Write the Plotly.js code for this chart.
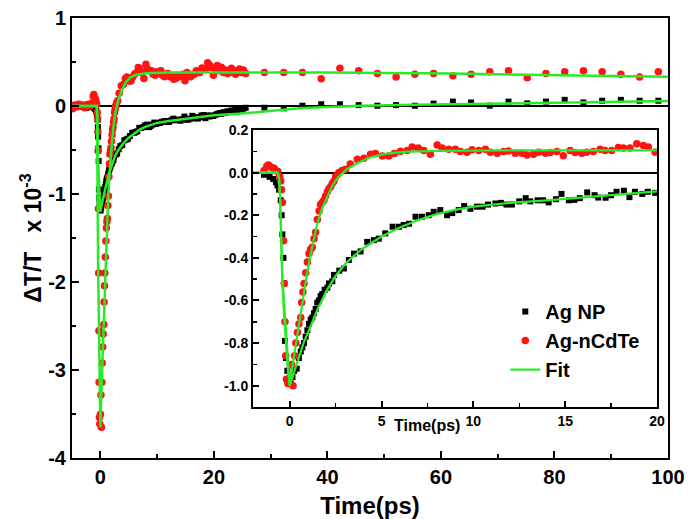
<!DOCTYPE html>
<html>
<head>
<meta charset="utf-8">
<script src="https://cdn.plot.ly/plotly-3.0.1.min.js"></script>
<style>html,body{margin:0;padding:0;background:#fff;}#chart{width:699px;height:519px;}</style>
</head>
<body>
<div id="chart"></div>
<script>
// ---- Data ----
// Peak magnitudes (main plot, units of 1e-3) used to convert normalized inset data
const redPeak = 3.65;
const blackPeak = 1.2;

// Tick labels (hyphen minus as in the original)
const mainYTicks = [-4,-3,-2,-1,0,1];
const mainYLabels = ['-4','-3','-2','-1','0','1'];
const insetYTicks = [-1.0,-0.8,-0.6,-0.4,-0.2,0.0,0.2];
const insetYLabels = ['-1.0','-0.8','-0.6','-0.4','-0.2','0.0','0.2'];

// Pre-zero points (main plot only, absolute units)
const tPre = [-4.9,-4.55,-4.2,-3.85,-3.5,-3.15,-2.8,-2.45,-2.1,-1.75];
const blackPre = [0.0,-0.01,0.01,0.0,-0.01,0.01,0.0,-0.02,0.0,-0.01];
const redPre = [-0.03,0.01,-0.01,0.02,0.0,0.01,-0.02,0.01,0.02,0.0];

// Normalized early-time data (inset, -2..20 ps)
const tRed = [-1.4,-1.25,-1.16,-1.0,-0.85,-0.75,-0.65,-0.55,-0.49,-0.45,-0.4,-0.34,-0.3,-0.26,-0.22,-0.18,-0.1,0.02,0.1,0.18,0.26,0.33,0.42,0.5,0.6,0.65,0.72,0.78,0.87,0.96,1.05,1.14,1.23,1.32,1.41,1.5,1.6,1.68,1.77,1.86,1.95,2.05,2.14,2.23,2.32,2.41,2.5,2.6,2.68,2.86,3.04,3.3,3.68,4.04,4.4,4.67,5.05,5.4,5.7,6.03,6.4,6.67,7.0,7.3,7.66,8.03,8.3,8.66,9.02,9.29,9.66,9.93,10.3,10.65,10.92,11.3,11.65,11.92,12.29,12.65,12.92,13.28,13.55,13.92,14.18,14.55,14.9,15.27,15.54,15.9,16.17,16.53,16.9,17.17,17.53,17.9,18.17,18.53,18.9,19.26,19.53,19.9];
const redNorm = [0.01,0.03,0.036,0.025,0.02,0.01,0.005,-0.02,-0.04,-0.08,-0.14,-0.32,-0.52,-0.70,-0.86,-0.97,-0.99,-0.96,-0.9,-1.0,-0.86,-0.80,-0.75,-0.71,-0.68,-0.61,-0.56,-0.52,-0.47,-0.42,-0.38,-0.36,-0.35,-0.31,-0.28,-0.22,-0.18,-0.15,-0.14,-0.13,-0.11,-0.09,-0.075,-0.066,-0.05,-0.04,-0.02,-0.01,0.0,0.01,0.016,0.04,0.063,0.067,0.086,0.09,0.078,0.078,0.09,0.1,0.104,0.12,0.115,0.104,0.086,0.13,0.115,0.11,0.11,0.099,0.096,0.107,0.104,0.11,0.096,0.091,0.099,0.101,0.091,0.091,0.083,0.086,0.096,0.091,0.094,0.099,0.079,0.104,0.094,0.091,0.096,0.099,0.11,0.104,0.104,0.118,0.115,0.115,0.135,0.127,0.12,0.096];

const tBlack = [-1.4,-1.1,-0.9,-0.75,-0.67,-0.58,-0.49,-0.44,-0.4,-0.34,-0.3,-0.26,-0.2,-0.13,-0.04,0.05,0.15,0.24,0.38,0.5,0.6,0.69,0.78,0.87,0.96,1.05,1.14,1.23,1.32,1.41,1.5,1.6,1.68,1.77,1.9,2.05,2.14,2.32,2.41,2.7,2.95,3.22,3.5,3.86,4.22,4.58,4.85,5.2,5.6,5.95,6.2,6.5,6.85,7.2,7.57,7.84,8.2,8.57,8.85,9.2,9.5,9.84,10.2,10.5,10.8,11.2,11.5,11.8,12.1,12.5,12.85,13.1,13.5,13.8,14.1,14.5,14.8,15.2,15.5,15.8,16.2,16.6,16.8,17.2,17.5,17.8,18.2,18.5,18.8,19.2,19.5,19.9];
const blackNorm = [-0.01,-0.02,-0.03,-0.045,-0.06,-0.08,-0.13,-0.2,-0.29,-0.4,-0.52,-0.79,-0.87,-0.93,-0.97,-0.99,-0.96,-0.93,-0.92,-0.87,-0.84,-0.82,-0.8,-0.77,-0.74,-0.71,-0.69,-0.68,-0.66,-0.64,-0.61,-0.6,-0.58,-0.57,-0.55,-0.54,-0.52,-0.51,-0.48,-0.46,-0.45,-0.41,-0.38,-0.37,-0.325,-0.317,-0.31,-0.285,-0.254,-0.254,-0.246,-0.24,-0.207,-0.207,-0.2,-0.184,-0.176,-0.2,-0.19,-0.176,-0.157,-0.17,-0.16,-0.16,-0.15,-0.145,-0.142,-0.15,-0.15,-0.135,-0.12,-0.135,-0.13,-0.13,-0.14,-0.125,-0.1,-0.13,-0.128,-0.12,-0.093,-0.106,-0.117,-0.118,-0.106,-0.09,-0.085,-0.115,-0.09,-0.1,-0.09,-0.095];

// Late-time points (main plot only, absolute units)
const tTail = [20.3,20.6,21.0,21.3,21.7,22.0,22.4,22.7,23.1,23.4,23.8,24.1,24.5,24.8,25.2,25.6,28.9,32.3,35.6,38.9,42.2,45.5,48.8,52.1,55.4,58.7,62.1,65.3,68.6,71.9,75.2,78.5,81.8,85.1,88.4,91.7,95.0,98.3];
const blackTail = [-0.1,-0.09,-0.08,-0.09,-0.07,-0.08,-0.06,-0.07,-0.05,-0.06,-0.04,-0.05,-0.03,-0.04,-0.03,-0.02,-0.02,-0.026,0.003,0.02,0.02,0.01,0.003,0.01,0.003,0.027,0.05,0.04,0.004,0.05,0.03,0.05,0.07,0.04,0.06,0.07,0.06,0.06];
const redTail = [0.42,0.46,0.40,0.44,0.38,0.41,0.37,0.40,0.43,0.38,0.36,0.40,0.42,0.38,0.41,0.37,0.38,0.38,0.38,0.31,0.43,0.40,0.37,0.33,0.36,0.37,0.345,0.36,0.39,0.40,0.32,0.37,0.39,0.40,0.39,0.36,0.33,0.39];

// Fit curves, normalized (-5..20 ps)
const tFitRed = [-5,-0.65,-0.58,-0.53,-0.49,-0.45,-0.4,-0.3,-0.2,-0.1,0.0,0.2,0.4,0.6,0.78,0.95,1.1,1.3,1.5,1.75,2.0,2.3,2.6,3.1,3.7,4.4,5.2,6.2,8,12,20];
const fitRedNorm = [0,0,-0.03,-0.1,-0.22,-0.37,-0.5,-0.62,-0.75,-0.87,-1.0,-0.88,-0.77,-0.65,-0.55,-0.47,-0.4,-0.32,-0.24,-0.17,-0.12,-0.065,-0.025,0.015,0.045,0.072,0.088,0.097,0.102,0.104,0.104];
const tFitBlack = [-5,-0.65,-0.58,-0.53,-0.49,-0.45,-0.4,-0.3,-0.2,-0.1,0.0,0.25,0.5,0.75,1.0,1.5,2.0,2.5,3.0,3.5,4.0,5.0,6.0,7.0,8.0,9,10,12,14,16,18,20];
const fitBlackNorm = [0,0,-0.03,-0.1,-0.22,-0.37,-0.52,-0.68,-0.82,-0.93,-1.0,-0.93,-0.86,-0.8,-0.75,-0.645,-0.555,-0.485,-0.43,-0.39,-0.355,-0.3,-0.258,-0.222,-0.195,-0.175,-0.16,-0.142,-0.13,-0.115,-0.1,-0.088];
// Fit tails (main plot only, absolute units)
const tFitRedTail = [25,30,40,50,62,75,90,100];
const fitRedTail = [0.385,0.385,0.38,0.375,0.37,0.355,0.34,0.333];
const tFitBlackTail = [25,30,35,40,46,55,62,70,80,90,100];
const fitBlackTail = [-0.085,-0.055,-0.026,-0.012,0.003,0.013,0.02,0.03,0.04,0.05,0.057];

// ---- Build main-plot series ----
const scale = (arr, k) => arr.map(v => v * k);
const mainBlackX = tPre.concat(tBlack, tTail);
const mainBlackY = blackPre.concat(scale(blackNorm, blackPeak), blackTail);
const mainRedX = tPre.concat(tRed, tTail);
const mainRedY = redPre.concat(scale(redNorm, redPeak), redTail);
const mainFitRedX = tFitRed.concat(tFitRedTail);
const mainFitRedY = scale(fitRedNorm, redPeak).concat(fitRedTail);
const mainFitBlackX = tFitBlack.concat(tFitBlackTail);
const mainFitBlackY = scale(fitBlackNorm, blackPeak).concat(fitBlackTail);

const FONT = 'Arial, "Liberation Sans", sans-serif';
const GREEN = 'rgb(40,235,40)';
const RED = 'rgb(255,20,20)';

const sq = {symbol:'square', size:6, color:'#000'};
const ci = {symbol:'circle', size:7.5, color:RED};

const traces = [
  {x:mainBlackX, y:mainBlackY, mode:'markers', marker:sq, xaxis:'x', yaxis:'y', showlegend:false},
  {x:mainRedX, y:mainRedY, mode:'markers', marker:ci, xaxis:'x', yaxis:'y', showlegend:false},
  {x:mainFitBlackX, y:mainFitBlackY, mode:'lines', line:{color:GREEN, width:2.5}, xaxis:'x', yaxis:'y', showlegend:false},
  {x:mainFitRedX, y:mainFitRedY, mode:'lines', line:{color:GREEN, width:2.5}, xaxis:'x', yaxis:'y', showlegend:false},
  {x:tBlack, y:blackNorm, name:'Ag NP', mode:'markers', marker:sq, xaxis:'x2', yaxis:'y2'},
  {x:tRed, y:redNorm, name:'Ag-nCdTe', mode:'markers', marker:ci, xaxis:'x2', yaxis:'y2'},
  {x:tFitRed, y:fitRedNorm, name:'Fit', mode:'lines', line:{color:GREEN, width:2.2}, xaxis:'x2', yaxis:'y2'},
  {x:tFitBlack, y:fitBlackNorm, mode:'lines', line:{color:GREEN, width:2.2}, xaxis:'x2', yaxis:'y2', showlegend:false}
];

const axBase = {
  showline:true, linecolor:'#000', linewidth:2, mirror:true,
  ticks:'inside', tickcolor:'#000', tickwidth:2, showgrid:false, zeroline:false
};

const layout = {
  width:699, height:519,
  margin:{l:72, r:31, t:18, b:61},
  paper_bgcolor:'#fff', plot_bgcolor:'#fff',
  font:{family:FONT, color:'#000'},
  xaxis:Object.assign({}, axBase, {
    domain:[0,1], anchor:'y', range:[-5,100], tick0:0, dtick:20, ticklen:7,
    minor:{tickmode:'linear', tick0:0, dtick:10, ticks:'inside', ticklen:4, tickwidth:2, tickcolor:'#000'},
    tickfont:{family:FONT, size:20, weight:'bold'},
    title:{text:'Time(ps)', font:{family:FONT, size:24, weight:'bold'}, standoff:11}
  }),
  yaxis:Object.assign({}, axBase, {
    domain:[0,1], anchor:'x', range:[-4,1], tickmode:'array', tickvals:mainYTicks, ticktext:mainYLabels, ticklen:7,
    minor:{tickmode:'linear', tick0:0, dtick:0.5, ticks:'inside', ticklen:4, tickwidth:2, tickcolor:'#000'},
    zeroline:true, zerolinecolor:'#000', zerolinewidth:2,
    tickfont:{family:FONT, size:20, weight:'bold'},
    title:{text:'\u0394T/T\u00a0\u00a0\u00a0x 10<sup>-3</sup>', font:{family:FONT, size:23, weight:'bold'}, standoff:0}
  }),
  xaxis2:Object.assign({}, axBase, {
    domain:[0.3037,0.9815], anchor:'y2', range:[-2,20], tick0:0, dtick:5, ticklen:6,
    minor:{tickmode:'linear', tick0:0, dtick:2.5, ticks:'inside', ticklen:4, tickwidth:1.5, tickcolor:'#000'},
    tickfont:{family:FONT, size:14, weight:'bold'}
  }),
  yaxis2:Object.assign({}, axBase, {
    domain:[0.1159,0.7455], anchor:'x2', range:[-1.1,0.2], tickmode:'array', tickvals:insetYTicks, ticktext:insetYLabels, ticklen:6,
    minor:{tickmode:'linear', tick0:0, dtick:0.1, ticks:'inside', ticklen:4, tickwidth:1.5, tickcolor:'#000'},
    zeroline:true, zerolinecolor:'#000', zerolinewidth:2,
    tickfont:{family:FONT, size:14, weight:'bold'}
  }),
  legend:{
    x:0.727, y:0.377, xanchor:'left', yanchor:'top', bgcolor:'rgba(0,0,0,0)',
    font:{family:FONT, size:20, weight:'bold'}, tracegroupgap:0
  },
  annotations:[
    {text:'Time(ps)', xref:'paper', yref:'paper', x:0.596, y:0.075, showarrow:false,
     xanchor:'center', yanchor:'middle', font:{family:FONT, size:16, weight:'bold'}}
  ]
};

Plotly.newPlot('chart', traces, layout, {displayModeBar:false, staticPlot:true});
</script>
</body>
</html>
